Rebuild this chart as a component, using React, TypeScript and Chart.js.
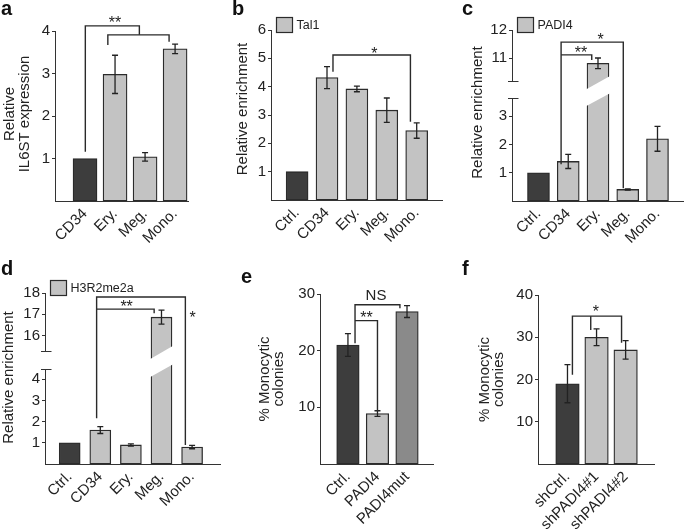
import React, { useEffect, useRef } from 'react';
import { Chart, registerables, LinearScale } from 'chart.js';

Chart.register(...registerables);

// ---------- broken linear scale ----------
class BrokenScale extends LinearScale {
  static id = 'broken';
  static defaults = LinearScale.defaults;
  brkT(v: number) {
    const b = (this.options as any).brk;
    if (!b) return v;
    if (v <= b.lowMax) return v;
    if (v >= b.highMin) return v - (b.highMin - b.lowMax - b.gap);
    return b.lowMax + ((v - b.lowMax) / (b.highMin - b.lowMax)) * b.gap;
  }
  getPixelForValue(value: number) {
    const t0 = this.brkT(this.min);
    const t1 = this.brkT(this.max);
    return this.getPixelForDecimal((this.brkT(value) - t0) / (t1 - t0));
  }
}
Chart.register(BrokenScale as any);

// ---------- data ----------
const catsA = ['CD34', 'Ery.', 'Meg.', 'Mono.'];
const valsA = [1.0, 2.98, 1.04, 3.58];
const errA = [0, 0.45, 0.1, 0.11];
const ticksA = [1, 2, 3, 4];

const catsB = ['Ctrl.', 'CD34', 'Ery.', 'Meg.', 'Mono.'];
const valsB = [1.0, 4.32, 3.92, 3.17, 2.45];
const errB = [0, 0.39, 0.1, 0.43, 0.27];
const ticksB = [1, 2, 3, 4, 5, 6];

const catsC = ['Ctrl.', 'CD34', 'Ery.', 'Meg.', 'Mono.'];
const valsC = [1.0, 1.4, 10.82, 0.41, 2.2];
const errC = [0, 0.25, 0.19, 0.02, 0.44];
const ticksC = [1, 2, 3, 11, 12];

const catsD = ['Ctrl.', 'CD34', 'Ery.', 'Meg.', 'Mono.'];
const valsD = [1.0, 1.6, 0.9, 16.86, 0.8];
const errD = [0, 0.16, 0.05, 0.33, 0.08];
const ticksD = [1, 2, 3, 4, 16, 17, 18];

const catsE = ['Ctrl.', 'PADI4', 'PADI4mut'];
const valsE = [21.0, 8.9, 26.9];
const errE = [2.0, 0.5, 1.05];
const ticksE = [10, 20, 30];

const catsF = ['shCtrl.', 'shPADI4#1', 'shPADI4#2'];
const valsF = [19.0, 30.0, 27.0];
const errF = [4.5, 2.0, 2.2];
const ticksF = [10, 20, 30, 40];

// ---------- styles ----------
const DARK = '#3d3d3d';
const LIGHT = '#c3c3c3';
const MID = '#8a8a8a';
const EDGE = '#2b2b2b';
const INK = '#222222';
const FONT = "'Liberation Sans', Arial, sans-serif";

type Mark = { text: string; x: number; y: number; size: number };
type Panel = {
  letter: string; letterPos: [number, number];
  box: { left: number; top: number; width: number; height: number };
  area: { left: number; top: number; right: number; bottom: number };
  cats: string[]; vals: number[]; errs: number[]; colors: string[];
  ticks: number[]; yMax: number; xMin: number; xMax: number; barW: number;
  brk?: { lowMax: number; highMin: number; gap: number; barIndex: number };
  title: string[]; titleX: number[]; titleDY: number;
  legend?: string;
  brackets: number[][][];
  marks: Mark[];
};

const panels: Panel[] = [
  {
    letter: 'a', letterPos: [1, 15],
    box: { left: 0, top: 0, width: 228, height: 260 },
    area: { left: 55, top: 31, right: 188, bottom: 201 },
    cats: catsA, vals: valsA, errs: errA, colors: [DARK, LIGHT, LIGHT, LIGHT],
    ticks: ticksA, yMax: 4, xMin: -1.0, xMax: 3.43, barW: 24,
    title: ['Relative', 'IL6ST expression'], titleX: [-45.5, -30], titleDY: -2,
    brackets: [
      [[0.01, 1.16], [0.01, 4.12], [1.81, 4.12], [1.81, 3.91]],
      [[0.76, 3.67], [0.76, 3.91], [2.8, 3.91], [2.8, 3.75]],
    ],
    marks: [{ text: '**', x: 1.0, y: 4.3, size: 16 }],
  },
  {
    letter: 'b', letterPos: [4, 15],
    box: { left: 228, top: 0, width: 228, height: 260 },
    area: { left: 271, top: 30, right: 442, bottom: 200 },
    cats: catsB, vals: valsB, errs: errB, colors: [DARK, LIGHT, LIGHT, LIGHT, LIGHT],
    ticks: ticksB, yMax: 6, xMin: -0.873, xMax: 4.846, barW: 22,
    title: ['Relative enrichment'], titleX: [-28.5], titleDY: -6,
    legend: 'Tal1',
    brackets: [[[1.2, 4.53], [1.2, 5.12], [3.79, 5.12], [3.79, 2.76]]],
    marks: [{ text: '*', x: 2.58, y: 5.3, size: 16 }],
  },
  {
    letter: 'c', letterPos: [6, 15],
    box: { left: 456, top: 0, width: 229, height: 260 },
    area: { left: 512, top: 30, right: 683, bottom: 201 },
    cats: catsC, vals: valsC, errs: errC, colors: [DARK, LIGHT, LIGHT, LIGHT, LIGHT],
    ticks: ticksC, yMax: 12, xMin: -0.89, xMax: 4.857, barW: 22,
    brk: { lowMax: 3.65, highMin: 10.2, gap: 0.6, barIndex: 2 },
    title: ['Relative enrichment'], titleX: [-34.5], titleDY: -3,
    legend: 'PADI4',
    brackets: [
      [[0.76, 1.3], [0.76, 11.57], [2.85, 11.57], [2.85, 0.45]],
      [[0.76, 11.12], [1.79, 11.12], [1.79, 10.94]],
    ],
    marks: [
      { text: '**', x: 1.43, y: 11.35, size: 16 },
      { text: '*', x: 2.09, y: 11.8, size: 16 },
    ],
  },
  {
    letter: 'd', letterPos: [1, 15],
    box: { left: 0, top: 260, width: 228, height: 270 },
    area: { left: 45, top: 293, right: 220, bottom: 464 },
    cats: catsD, vals: valsD, errs: errD, colors: [DARK, LIGHT, LIGHT, LIGHT, LIGHT],
    ticks: ticksD, yMax: 18, xMin: -0.807, xMax: 4.912, barW: 21,
    brk: { lowMax: 4.49, highMin: 15.27, gap: 0.85, barIndex: 3 },
    title: ['Relative enrichment'], titleX: [-35.8], titleDY: -1,
    legend: 'H3R2me2a',
    brackets: [
      [[0.88, 2.16], [0.88, 17.81], [3.78, 17.81], [3.78, 0.9]],
      [[0.88, 17.24], [2.76, 17.24], [2.76, 17.05]],
    ],
    marks: [
      { text: '**', x: 1.86, y: 17.55, size: 16 },
      { text: '*', x: 4.02, y: 17.02, size: 16 },
    ],
  },
  {
    letter: 'e', letterPos: [13, 23],
    box: { left: 228, top: 260, width: 228, height: 270 },
    area: { left: 320, top: 294, right: 433, bottom: 464 },
    cats: catsE, vals: valsE, errs: errE, colors: [DARK, LIGHT, MID],
    ticks: ticksE, yMax: 30, xMin: -0.946, xMax: 2.88, barW: 22.5,
    title: ['% Monocytic', 'colonies'], titleX: [-55, -41], titleDY: 0,
    brackets: [
      [[0.24, 21.3], [0.24, 28.1], [1.76, 28.1], [1.76, 27.5]],
      [[0.24, 25.3], [1.0, 25.3], [1.0, 9.3]],
    ],
    marks: [
      { text: 'NS', x: 0.95, y: 29.9, size: 15 },
      { text: '**', x: 0.63, y: 26.6, size: 16 },
    ],
  },
  {
    letter: 'f', letterPos: [6, 15],
    box: { left: 456, top: 260, width: 229, height: 270 },
    area: { left: 538, top: 295, right: 654, bottom: 464 },
    cats: catsF, vals: valsF, errs: errF, colors: [DARK, LIGHT, LIGHT],
    ticks: ticksF, yMax: 40, xMin: -1.014, xMax: 2.976, barW: 23.5,
    title: ['% Monocytic', 'colonies'], titleX: [-53.3, -39.3], titleDY: 0,
    brackets: [
      [[0.17, 21.1], [0.17, 35.0], [1.86, 35.0], [1.86, 28.7]],
      [[0.8, 35.0], [0.8, 31.7]],
    ],
    marks: [{ text: '*', x: 0.98, y: 37.1, size: 16 }],
  },
];

const crisp = (v: number) => Math.round(v) + 0.5;

function makePlugin(p: Panel) {
  return {
    id: 'panel_' + p.letter,
    afterDatasetsDraw(chart: any) {
      const ctx: CanvasRenderingContext2D = chart.ctx;
      const xs = chart.scales.x;
      const ys = chart.scales.y;
      const meta = chart.getDatasetMeta(0);
      // break band across the tall bar
      if (p.brk) {
        const el: any = meta.data[p.brk.barIndex];
        const L = el.x - el.width / 2 - 2;
        const R = el.x + el.width / 2 + 2;
        const pTop = ys.getPixelForValue(p.brk.highMin);
        const pBot = ys.getPixelForValue(p.brk.lowMax);
        ctx.save();
        ctx.fillStyle = '#ffffff';
        ctx.beginPath();
        ctx.moveTo(L, pTop + 9);
        ctx.lineTo(R, pTop - 5.5);
        ctx.lineTo(R, pBot - 5);
        ctx.lineTo(L, pBot + 9);
        ctx.closePath();
        ctx.fill();
        ctx.restore();
      }
      // error bars
      ctx.save();
      ctx.strokeStyle = INK;
      ctx.lineWidth = 1.3;
      p.vals.forEach((v, i) => {
        const e = p.errs[i];
        if (!e) return;
        const el: any = meta.data[i];
        const x = el.x;
        const yT = ys.getPixelForValue(v + e);
        const yB = ys.getPixelForValue(v - e);
        ctx.beginPath();
        ctx.moveTo(x, yT); ctx.lineTo(x, yB);
        ctx.moveTo(x - 3, yT); ctx.lineTo(x + 3, yT);
        ctx.moveTo(x - 3, yB); ctx.lineTo(x + 3, yB);
        ctx.stroke();
      });
      // brackets
      ctx.strokeStyle = '#2a2a2a';
      ctx.lineWidth = 1.4;
      p.brackets.forEach((poly) => {
        ctx.beginPath();
        poly.forEach(([bx, by], k) => {
          const px = xs.getPixelForValue(bx);
          const py = ys.getPixelForValue(by);
          if (k === 0) ctx.moveTo(px, py); else ctx.lineTo(px, py);
        });
        ctx.stroke();
      });
      // significance marks
      ctx.fillStyle = INK;
      ctx.textAlign = 'center';
      ctx.textBaseline = 'alphabetic';
      p.marks.forEach((m) => {
        ctx.font = `${m.size}px ${FONT}`;
        const px = xs.getPixelForValue(m.x);
        const py = ys.getPixelForValue(m.y);
        const off = /^\*+$/.test(m.text) ? 0.59 : 0.36;
        ctx.fillText(m.text, px, py + off * m.size);
      });
      ctx.restore();
    },
    afterDraw(chart: any) {
      const ctx: CanvasRenderingContext2D = chart.ctx;
      const ca = chart.chartArea;
      const ys = chart.scales.y;
      ctx.save();
      // broken axis line
      if (p.brk) {
        const x = crisp(ca.left - 0.5);
        const pTop = Math.round(ys.getPixelForValue(p.brk.highMin)) + 0.5;
        const pBot = Math.round(ys.getPixelForValue(p.brk.lowMax)) + 0.5;
        ctx.strokeStyle = '#333333';
        ctx.lineWidth = 1;
        ctx.beginPath();
        ctx.moveTo(x, ca.bottom); ctx.lineTo(x, pBot);
        ctx.moveTo(x, pTop); ctx.lineTo(x, ca.top);
        ctx.moveTo(x - 4.5, pBot); ctx.lineTo(x + 6, pBot);
        ctx.moveTo(x - 4.5, pTop); ctx.lineTo(x + 6, pTop);
        ctx.stroke();
      }
      // panel letter
      ctx.fillStyle = '#111111';
      ctx.font = `bold 20px ${FONT}`;
      ctx.textAlign = 'left';
      ctx.textBaseline = 'alphabetic';
      ctx.fillText(p.letter, p.letterPos[0], p.letterPos[1]);
      // y title
      ctx.fillStyle = INK;
      ctx.font = `15px ${FONT}`;
      ctx.textAlign = 'center';
      ctx.textBaseline = 'middle';
      const cy = (ca.top + ca.bottom) / 2 + p.titleDY;
      p.title.forEach((t, k) => {
        ctx.save();
        ctx.translate(ca.left + p.titleX[k], cy);
        ctx.rotate(-Math.PI / 2);
        ctx.fillText(t, 0, 0);
        ctx.restore();
      });
      // legend
      if (p.legend) {
        const bx = Math.round(ca.left + 5) + 0.5;
        const by = Math.round(ca.top - 13) + 0.5;
        ctx.fillStyle = LIGHT;
        ctx.strokeStyle = EDGE;
        ctx.lineWidth = 1.2;
        ctx.fillRect(bx, by, 16, 15);
        ctx.strokeRect(bx, by, 16, 15);
        ctx.fillStyle = INK;
        ctx.font = `12.5px ${FONT}`;
        ctx.textAlign = 'left';
        ctx.textBaseline = 'middle';
        ctx.fillText(p.legend, bx + 20, by + 8);
      }
      ctx.restore();
    },
  };
}

function buildConfig(p: Panel): any {
  const yScale: any = {
    type: p.brk ? 'broken' : 'linear',
    min: 0,
    max: p.yMax,
    afterBuildTicks: (s: any) => { s.ticks = p.ticks.map((v) => ({ value: v })); },
    afterFit: (s: any) => { s.width = p.area.left - p.box.left; },
    ticks: {
      callback: (v: any) => String(v),
      color: INK,
      font: { family: FONT, size: 15 },
      padding: 2,
      autoSkip: false,
    },
    grid: { display: true, drawOnChartArea: false, drawTicks: true, tickLength: 3, color: '#333333', lineWidth: 1 },
    border: { display: !p.brk, color: '#333333', width: 1 },
  };
  if (p.brk) yScale.brk = { lowMax: p.brk.lowMax, highMin: p.brk.highMin, gap: p.brk.gap };
  return {
    type: 'bar',
    data: {
      datasets: [
        {
          data: p.vals.map((v, i) => ({ x: i, y: v })),
          backgroundColor: p.colors,
          borderColor: EDGE,
          borderWidth: 1.3,
          borderSkipped: false,
          barThickness: p.barW,
        },
      ],
    },
    options: {
      animation: false,
      responsive: false,
      devicePixelRatio: 1,
      events: [],
      layout: {
        autoPadding: false,
        padding: {
          left: 0,
          top: p.area.top - p.box.top,
          right: p.box.left + p.box.width - p.area.right,
          bottom: 0,
        },
      },
      plugins: { legend: { display: false }, tooltip: { enabled: false }, title: { display: false } },
      scales: {
        x: {
          type: 'linear',
          min: p.xMin,
          max: p.xMax,
          offset: false,
          afterBuildTicks: (s: any) => { s.ticks = p.cats.map((_, i) => ({ value: i })); },
          afterFit: (s: any) => { s.height = p.box.top + p.box.height - p.area.bottom; },
          ticks: {
            callback: (v: any) => p.cats[v] ?? '',
            color: INK,
            font: { family: FONT, size: 15 },
            autoSkip: false,
            minRotation: 45,
            maxRotation: 45,
            padding: 4,
          },
          grid: { display: false, drawTicks: false },
          border: { display: true, color: '#333333', width: 1 },
        },
        y: yScale,
      },
    },
    plugins: [makePlugin(p)],
  };
}

function PanelChart({ p }: { p: Panel }) {
  const ref = useRef<HTMLCanvasElement>(null);
  useEffect(() => {
    if (!ref.current) return;
    const chart = new Chart(ref.current, buildConfig(p));
    return () => chart.destroy();
  }, [p]);
  return (
    <canvas
      ref={ref}
      width={p.box.width}
      height={p.box.height}
      style={{ position: 'absolute', left: p.box.left, top: p.box.top, width: p.box.width, height: p.box.height }}
    />
  );
}

export default function App() {
  return (
    <div style={{ position: 'absolute', left: 0, top: 0, width: 685, height: 530, background: '#ffffff', overflow: 'hidden' }}>
      {panels.map((p) => (
        <PanelChart key={p.letter} p={p} />
      ))}
    </div>
  );
}
